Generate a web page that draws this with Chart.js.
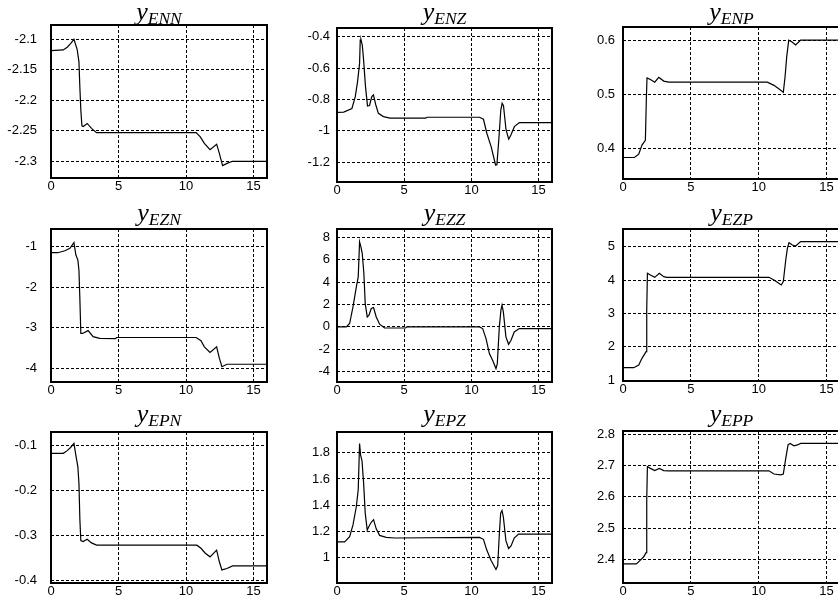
<!DOCTYPE html>
<html>
<head>
<meta charset="utf-8">
<script src="https://cdn.jsdelivr.net/npm/chart.js@4.4.0/dist/chart.umd.min.js"></script>
<style>
  html, body { margin: 0; padding: 0; width: 838px; height: 604px; overflow: hidden; background: #fff; }
  canvas { position: absolute; }
</style>
</head>
<body>
<script>
// shared time axis ticks
var xTicks = [0, 5, 10, 15];

// yENN
var tENN = [0, 0.91, 1.2, 1.45, 1.7, 1.94, 2.07, 2.14, 2.21, 2.29, 2.39, 2.68, 3.0, 3.37, 10.75, 11.06, 11.36, 11.78, 12.27, 12.47, 12.71, 13.08, 13.45, 16];
var yENN = [-2.1186, -2.1175, -2.113, -2.107, -2.1, -2.117, -2.137, -2.18, -2.216, -2.242, -2.243, -2.238, -2.246, -2.253, -2.253, -2.26, -2.2705, -2.281, -2.272, -2.287, -2.307, -2.303, -2.3, -2.3];
var ticksENN = [-2.3, -2.25, -2.2, -2.15, -2.1];

// yENZ
var tENZ = [0, 0.5, 1.11, 1.36, 1.53, 1.68, 1.73, 1.78, 1.88, 1.97, 2.12, 2.27, 2.42, 2.59, 2.71, 2.89, 3.08, 3.45, 3.95, 6.6, 6.7, 10.6, 10.9, 11.15, 11.47, 11.8, 11.9, 12.04, 12.19, 12.29, 12.39, 12.58, 12.78, 12.95, 13.2, 13.57, 16];
var yENZ = [-0.882, -0.88, -0.857, -0.782, -0.686, -0.57, -0.421, -0.417, -0.453, -0.538, -0.718, -0.841, -0.838, -0.782, -0.771, -0.835, -0.888, -0.909, -0.919, -0.919, -0.913, -0.913, -0.926, -1.015, -1.1, -1.217, -1.215, -1.058, -0.867, -0.824, -0.84, -0.994, -1.053, -1.025, -0.973, -0.947, -0.947];
var ticksENZ = [-1.2, -1, -0.8, -0.6, -0.4];

// yENP
var tENP = [0, 0.84, 1.16, 1.4, 1.65, 1.72, 1.77, 2.02, 2.34, 2.64, 3.0, 3.37, 10.64, 11.13, 11.63, 11.82, 11.95, 12.07, 12.22, 12.44, 12.73, 13.1, 16];
var yENP = [0.383, 0.383, 0.389, 0.406, 0.415, 0.49, 0.531, 0.528, 0.523, 0.532, 0.525, 0.523, 0.523, 0.517, 0.508, 0.504, 0.533, 0.57, 0.601, 0.598, 0.592, 0.601, 0.601];
var ticksENP = [0.4, 0.5, 0.6];

// yEZN
var tEZN = [0, 0.5, 1.03, 1.4, 1.7, 1.84, 1.99, 2.07, 2.14, 2.21, 2.34, 2.75, 3.12, 3.61, 4.8, 4.84, 10.75, 11.11, 11.36, 11.78, 12.27, 12.47, 12.66, 13.03, 13.45, 16];
var yEZN = [-1.148, -1.148, -1.1, -1.04, -0.9, -1.2, -1.33, -1.58, -2.3, -3.14, -3.14, -3.07, -3.22, -3.26, -3.27, -3.24, -3.24, -3.32, -3.47, -3.61, -3.47, -3.75, -3.96, -3.9, -3.9, -3.9];
var ticksEZN = [-4, -3, -2, -1];

// yEZZ
var tEZZ = [0, 0.69, 0.94, 1.19, 1.44, 1.58, 1.68, 1.78, 1.88, 2.0, 2.1, 2.25, 2.38, 2.55, 2.72, 2.92, 3.17, 3.54, 5.1, 5.2, 10.6, 10.84, 11.09, 11.34, 11.58, 11.83, 11.93, 12.08, 12.2, 12.28, 12.38, 12.57, 12.77, 12.95, 13.19, 13.56, 16];
var yEZZ = [0, 0, 0.3, 1.79, 3.57, 4.47, 7.6, 7.15, 6.55, 4.77, 2.08, 0.89, 1.04, 1.64, 1.73, 0.89, 0.24, -0.1, -0.1, 0, 0, -0.15, -1.04, -2.38, -2.98, -3.72, -3.28, 0, 1.49, 1.94, 1.34, -0.89, -1.55, -1.19, -0.45, -0.15, -0.15];
var ticksEZZ = [-4, -2, 0, 2, 4, 6, 8];

// yEZP
var tEZP = [0, 0.79, 1.16, 1.4, 1.7, 1.75, 1.8, 2.02, 2.34, 2.68, 3.0, 3.25, 10.76, 11.13, 11.67, 11.82, 12.0, 12.12, 12.24, 12.49, 12.73, 13.1, 16];
var yEZP = [1.37, 1.37, 1.45, 1.65, 1.85, 3.1, 4.2, 4.15, 4.08, 4.2, 4.1, 4.08, 4.08, 4.0, 3.85, 3.95, 4.6, 4.95, 5.12, 5.05, 5.02, 5.15, 5.15];
var ticksEZP = [1, 2, 3, 4, 5];

// yEPN
var tEPN = [0, 0.91, 1.2, 1.45, 1.7, 1.84, 1.99, 2.07, 2.14, 2.21, 2.38, 2.68, 3.0, 3.37, 10.8, 11.11, 11.43, 11.78, 12.27, 12.47, 12.66, 13.03, 13.45, 16];
var yEPN = [-0.117, -0.117, -0.111, -0.104, -0.095, -0.121, -0.147, -0.184, -0.265, -0.311, -0.313, -0.308, -0.316, -0.321, -0.321, -0.328, -0.339, -0.347, -0.332, -0.358, -0.376, -0.373, -0.367, -0.367];
var ticksEPN = [-0.4, -0.3, -0.2, -0.1];

// yEPZ
var tEPZ = [0, 0.57, 0.94, 1.19, 1.44, 1.58, 1.68, 1.76, 1.86, 1.98, 2.1, 2.25, 2.38, 2.55, 2.72, 2.92, 3.17, 3.66, 4.28, 10.6, 10.9, 11.14, 11.46, 11.83, 11.96, 12.08, 12.18, 12.28, 12.38, 12.57, 12.77, 12.95, 13.19, 13.51, 16];
var yEPZ = [1.12, 1.12, 1.16, 1.25, 1.39, 1.52, 1.87, 1.78, 1.74, 1.57, 1.34, 1.21, 1.24, 1.27, 1.29, 1.22, 1.17, 1.155, 1.15, 1.155, 1.14, 1.06, 0.98, 0.91, 0.94, 1.18, 1.34, 1.36, 1.31, 1.13, 1.07, 1.09, 1.15, 1.18, 1.18];
var ticksEPZ = [1, 1.2, 1.4, 1.6, 1.8];

// yEPP
var tEPP = [0, 0.99, 1.28, 1.53, 1.7, 1.75, 1.8, 2.02, 2.34, 2.68, 3.0, 3.37, 10.76, 11.13, 11.63, 11.82, 12.0, 12.17, 12.32, 12.61, 12.86, 13.1, 16];
var yEPP = [2.385, 2.385, 2.397, 2.408, 2.421, 2.59, 2.697, 2.691, 2.684, 2.691, 2.684, 2.683, 2.683, 2.673, 2.67, 2.673, 2.723, 2.766, 2.771, 2.763, 2.766, 2.771, 2.771];
var ticksEPP = [2.4, 2.5, 2.6, 2.7, 2.8];

// y axis ranges [min, max]
var rangeENN = [-2.3274, -2.0766], rangeENZ = [-1.3255, -0.3446], rangeENP = [0.343, 0.6255];
var rangeEZN = [-4.338, -0.563], rangeEZZ = [-4.92, 8.74], rangeEZP = [0.97, 5.53];
var rangeEPN = [-0.4051, -0.0696], rangeEPZ = [0.807, 1.958], rangeEPP = [2.324, 2.8106];

var panels = [
  {sub: 'ENN', t: tENN, y: yENN, ticks: ticksENN, range: rangeENN},
  {sub: 'ENZ', t: tENZ, y: yENZ, ticks: ticksENZ, range: rangeENZ},
  {sub: 'ENP', t: tENP, y: yENP, ticks: ticksENP, range: rangeENP},
  {sub: 'EZN', t: tEZN, y: yEZN, ticks: ticksEZN, range: rangeEZN},
  {sub: 'EZZ', t: tEZZ, y: yEZZ, ticks: ticksEZZ, range: rangeEZZ},
  {sub: 'EZP', t: tEZP, y: yEZP, ticks: ticksEZP, range: rangeEZP},
  {sub: 'EPN', t: tEPN, y: yEPN, ticks: ticksEPN, range: rangeEPN},
  {sub: 'EPZ', t: tEPZ, y: yEPZ, ticks: ticksEPZ, range: rangeEPZ},
  {sub: 'EPP', t: tEPP, y: yEPP, ticks: ticksEPP, range: rangeEPP}
];

/* plot boxes on the page: left, right, top, bottom */
var boxes = [
  [51, 267, 25, 178], [337, 552, 28, 182], [623, 840, 27, 179],
  [51, 267, 229, 382], [337, 552, 229, 382], [623, 840, 229, 381],
  [51, 267, 432, 583], [337, 552, 432, 583], [623, 840, 431, 583]
];
var labelPad = [14, 7, 8];        // gap between y labels and axis, per column
var subBase = [24, 225, 426];     // title subscript baseline, per row

var PAD_TOP = 30, Y_W = 50, X_H = 24, PAD_R = 4;
var tickFont = {family: '"Liberation Sans", Arial, sans-serif', size: 13};

/* box round the axes plus the italic y_sub title */
function makeFrame(sub, base) {
  return {
    id: 'frame',
    afterDraw: function(chart) {
      var a = chart.chartArea, ctx = chart.ctx;
      ctx.save();
      ctx.strokeStyle = '#000';
      ctx.lineWidth = 2;
      ctx.strokeRect(a.left, a.top, a.right - a.left, a.bottom - a.top);

      var cx = (a.left + a.right) / 2;
      ctx.fillStyle = '#000';
      ctx.textBaseline = 'alphabetic';
      ctx.textAlign = 'left';
      ctx.font = 'italic 26px "Liberation Serif", serif';
      var w1 = ctx.measureText('y').width;
      ctx.font = 'italic 17.5px "Liberation Serif", serif';
      var w2 = ctx.measureText(sub).width;
      var x0 = cx - (w1 + w2) / 2;
      ctx.font = 'italic 26px "Liberation Serif", serif';
      ctx.fillText('y', x0, base - 4);
      ctx.font = 'italic 17.5px "Liberation Serif", serif';
      ctx.fillText(sub, x0 + w1, base);
      ctx.restore();
    }
  };
}

panels.forEach(function(p, i) {
  var col = i % 3, row = Math.floor(i / 3);
  var b = boxes[i];
  var w = b[1] - b[0] + Y_W + PAD_R;
  var h = b[3] - b[2] + PAD_TOP + X_H;
  var cv = document.createElement('canvas');
  cv.width = w; cv.height = h;
  cv.style.left = (b[0] - Y_W) + 'px';
  cv.style.top = (b[2] - PAD_TOP) + 'px';
  cv.style.width = w + 'px';
  cv.style.height = h + 'px';
  document.body.appendChild(cv);

  var pts = p.t.map(function(x, k) { return {x: x, y: p.y[k]}; });
  var yt = p.ticks;

  new Chart(cv, {
    type: 'line',
    data: {
      datasets: [{
        data: pts,
        borderColor: '#000',
        borderWidth: 1.2,
        pointRadius: 0,
        tension: 0,
        fill: false
      }]
    },
    options: {
      responsive: false,
      animation: false,
      events: [],
      layout: {padding: {top: PAD_TOP, right: PAD_R, left: 0, bottom: 0}},
      plugins: {legend: {display: false}, tooltip: {enabled: false}},
      scales: {
        x: {
          type: 'linear', min: 0, max: 16,
          afterBuildTicks: function(s) { s.ticks = xTicks.map(function(v) { return {value: v}; }); },
          afterFit: function(s) { s.height = X_H; },
          grid: {color: '#000', lineWidth: 1, drawTicks: false},
          border: {display: false, dash: [3, 2]},
          ticks: {color: '#000', font: tickFont, padding: 1, maxRotation: 0, autoSkip: false,
                  callback: function(v) { return String(v); }}
        },
        y: {
          type: 'linear', min: p.range[0], max: p.range[1],
          afterBuildTicks: function(s) { s.ticks = yt.map(function(v) { return {value: v}; }); },
          afterFit: function(s) { s.width = Y_W; },
          grid: {color: '#000', lineWidth: 1, drawTicks: false},
          border: {display: false, dash: [3, 2]},
          ticks: {color: '#000', font: tickFont, padding: labelPad[col], autoSkip: false,
                  callback: function(v) { return String(v); }}
        }
      }
    },
    plugins: [makeFrame(p.sub, subBase[row] - (b[2] - PAD_TOP))]
  });
});
</script>
</body>
</html>
